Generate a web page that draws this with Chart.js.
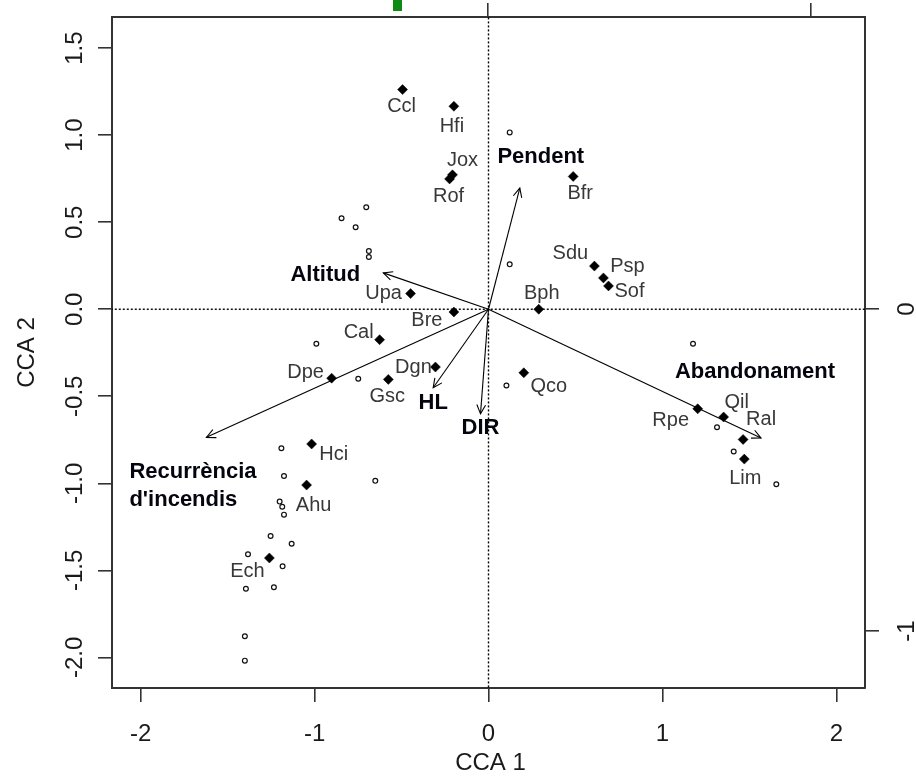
<!DOCTYPE html>
<html><head><meta charset="utf-8">
<script src="https://cdn.jsdelivr.net/npm/chart.js@4.4.1/dist/chart.umd.min.js"></script>
<style>
html,body{margin:0;padding:0;background:#fff;}
#wrap{position:relative;width:916px;height:779px;overflow:hidden;}
#mark{position:absolute;left:393px;top:0;width:9px;height:11px;background:#0c8a12;}
</style></head><body>
<div id="wrap"><canvas id="c" width="916" height="779"></canvas><div id="mark"></div></div>
<script>
// ---------------- DATA ----------------
const speciesNames = ['Ccl','Hfi','Jox','Rof','Bfr','Sdu','Psp','Sof','Bph','Upa','Bre','Cal','Dgn','Dpe','Gsc','Qco','Rpe','Qil','Ral','Lim','Hci','Ahu','Ech'];
const speciesX = [-0.494,-0.199,-0.207,-0.224,0.487,0.609,0.661,0.690,0.289,-0.448,-0.199,-0.626,-0.305,-0.902,-0.576,0.203,1.203,1.352,1.464,1.471,-1.017,-1.046,-1.260];
const speciesY = [1.262,1.166,0.772,0.749,0.763,0.248,0.180,0.134,0.000,0.090,-0.016,-0.175,-0.332,-0.396,-0.403,-0.365,-0.572,-0.619,-0.748,-0.861,-0.774,-1.010,-1.429];

const siteX = [-0.703,-0.845,-0.764,-0.688,-0.688,-0.990,-0.749,0.122,0.122,1.176,0.103,1.314,1.410,1.655,-1.191,-1.176,-0.651,-1.201,-1.186,-1.176,-1.253,-1.132,-1.383,-1.184,-1.395,-1.234,-1.401,-1.401];
const siteY = [0.586,0.523,0.471,0.334,0.300,-0.198,-0.399,1.016,0.258,-0.198,-0.438,-0.678,-0.817,-1.005,-0.799,-0.958,-0.986,-1.105,-1.135,-1.180,-1.303,-1.347,-1.408,-1.477,-1.606,-1.597,-1.879,-2.019];

const envNames = ['Altitud','Pendent','Abandonament',"Recurrència\nd'incendis",'HL','DIR'];
const envX = [-0.605,0.180,1.567,-1.622,-0.318,-0.046];
const envY = [0.209,0.696,-0.740,-0.736,-0.451,-0.601];

const xTicks = [-2,-1,0,1,2];
const yTicks = [-2,-1.5,-1,-0.5,0,0.5,1,1.5];
const topTicks = [0,1];
const rightTicks = [0,-1];
const xTitle = 'CCA 1';
const yTitle = 'CCA 2';

// ---------------- STYLE / PLACEMENT ----------------
const FONT = '"Liberation Sans", Arial, Helvetica, sans-serif';
const frameColor = '#333333';
const speciesLabelOffset = {
  Ccl:[-1,17], Hfi:[-2,20], Jox:[10,-14], Rof:[-1,18], Bfr:[7,17], Sdu:[-24,-13], Psp:[24,-11],
  Sof:[21,6], Bph:[3,-16], Upa:[-27,0], Bre:[-27,8], Cal:[-21,-7], Dgn:[-22,0], Dpe:[-26,-6],
  Gsc:[-1,17], Qco:[25,14], Rpe:[-27,12], Qil:[13,-15], Ral:[18,-20], Lim:[1,19], Hci:[22,11],
  Ahu:[7,20], Ech:[-22,14]
};
const envLabelPlace = [
  {dx:-58, dy:2, align:'center'},
  {dx:21, dy:-31, align:'center'},
  {dx:-6, dy:-66, align:'center'},
  {dx:-77, dy:35, align:'left', lh:28},
  {dx:0, dy:15, align:'center'},
  {dx:0, dy:14, align:'center'}
];

function fixedTicks(arr){ return function(scale){ scale.ticks = arr.map(v => ({value:v})); }; }
function axis(pos, min, max, arr){
  return {
    type:'linear', position:pos, min:min, max:max,
    afterBuildTicks: fixedTicks(arr),
    grid:{drawOnChartArea:false, drawTicks:true, tickLength:14, color:frameColor, lineWidth:1.6},
    border:{display:true, color:frameColor, width:2},
    ticks:{display:false}
  };
}

const datasets = [];
datasets.push({
  type:'scatter', label:'species',
  data: speciesX.map((x,i)=>({x:x, y:speciesY[i]})),
  pointStyle:'rectRot', pointRadius:5, backgroundColor:'#000', borderColor:'#000', borderWidth:0.5
});
datasets.push({
  type:'scatter', label:'sites',
  data: siteX.map((x,i)=>({x:x, y:siteY[i]})),
  pointStyle:'circle', pointRadius:2.4, backgroundColor:'#fff', borderColor:'#111', borderWidth:1.2
});
const arrowStart = datasets.length;
envX.forEach((x,i)=>{
  datasets.push({
    type:'line', label:envNames[i],
    data:[{x:0,y:0},{x:x,y:envY[i]}],
    borderColor:'#000', borderWidth:1.1, pointRadius:0, fill:false, tension:0
  });
});
datasets.push({
  type:'line', label:'h0', data:[{x:-3,y:0},{x:3,y:0}],
  borderColor:'#000', borderWidth:1.4, borderDash:[2,2], pointRadius:0, fill:false
});
datasets.push({
  type:'line', label:'v0', data:[{x:0,y:-3},{x:0,y:2}],
  borderColor:'#000', borderWidth:1.4, borderDash:[2,2], pointRadius:0, fill:false
});

const overlay = {
  id:'overlay',
  afterDatasetsDraw(chart){
    const ctx = chart.ctx;
    // arrow heads
    const L = 10, a = Math.PI/7;
    envX.forEach((_,i)=>{
      const meta = chart.getDatasetMeta(arrowStart+i);
      const p0 = meta.data[0], p1 = meta.data[1];
      const ang = Math.atan2(p1.y-p0.y, p1.x-p0.x);
      ctx.save();
      ctx.strokeStyle = '#000'; ctx.lineWidth = 1.1;
      ctx.beginPath();
      ctx.moveTo(p1.x - L*Math.cos(ang-a), p1.y - L*Math.sin(ang-a));
      ctx.lineTo(p1.x, p1.y);
      ctx.lineTo(p1.x - L*Math.cos(ang+a), p1.y - L*Math.sin(ang+a));
      ctx.stroke();
      ctx.restore();
    });
    // species labels
    const sm = chart.getDatasetMeta(0);
    ctx.save();
    ctx.font = '20px ' + FONT;
    ctx.fillStyle = '#383838';
    ctx.textAlign = 'center'; ctx.textBaseline = 'middle';
    speciesNames.forEach((n,i)=>{
      const p = sm.data[i]; const o = speciesLabelOffset[n] || [0,0];
      ctx.fillText(n, p.x+o[0], p.y+o[1]);
    });
    ctx.restore();
    // env labels
    ctx.save();
    ctx.font = 'bold 22px ' + FONT;
    ctx.fillStyle = '#050510';
    ctx.textBaseline = 'middle';
    envNames.forEach((n,i)=>{
      const meta = chart.getDatasetMeta(arrowStart+i);
      const p = meta.data[1]; const pl = envLabelPlace[i];
      ctx.textAlign = pl.align;
      n.split('\n').forEach((line,k)=>{
        ctx.fillText(line, p.x+pl.dx, p.y+pl.dy+k*(pl.lh||0));
      });
    });
    ctx.restore();
  },
  afterDraw(chart){
    const ctx = chart.ctx, ca = chart.chartArea;
    const sx = chart.scales.x, sy = chart.scales.y, sy2 = chart.scales.y2;
    ctx.save();
    ctx.font = '24px ' + FONT;
    ctx.fillStyle = '#1a1a1a';
    ctx.textAlign = 'center'; ctx.textBaseline = 'middle';
    xTicks.forEach(v=> ctx.fillText(String(v), sx.getPixelForValue(v), ca.bottom + 46));
    yTicks.forEach(v=>{
      ctx.save();
      ctx.translate(ca.left - 37, sy.getPixelForValue(v));
      ctx.rotate(-Math.PI/2);
      ctx.fillText(v.toFixed(1), 0, 0);
      ctx.restore();
    });
    rightTicks.forEach(v=>{
      ctx.save();
      ctx.translate(ca.right + 42, sy2.getPixelForValue(v));
      ctx.rotate(-Math.PI/2);
      ctx.fillText(String(v), 0, 0);
      ctx.restore();
    });
    // axis titles
    ctx.fillText(xTitle, (ca.left+ca.right)/2 + 2, ca.bottom + 75);
    ctx.save();
    ctx.translate(27, (ca.top+ca.bottom)/2);
    ctx.rotate(-Math.PI/2);
    ctx.fillText(yTitle, 0, 0);
    ctx.restore();
    ctx.restore();
  }
};

new Chart(document.getElementById('c'), {
  data:{datasets:datasets},
  options:{
    responsive:false, animation:false, devicePixelRatio:1,
    layout:{padding:{left:98, right:37, top:3, bottom:77}},
    plugins:{legend:{display:false}, tooltip:{enabled:false}},
    scales:{
      x: axis('bottom', -2.165, 2.165, xTicks),
      y: axis('left', -2.176, 1.679, yTicks),
      x2: axis('top', -1.165, 1.167, topTicks),
      y2: axis('right', -1.177, 0.907, rightTicks)
    }
  },
  plugins:[overlay]
});
</script>
</body></html>
